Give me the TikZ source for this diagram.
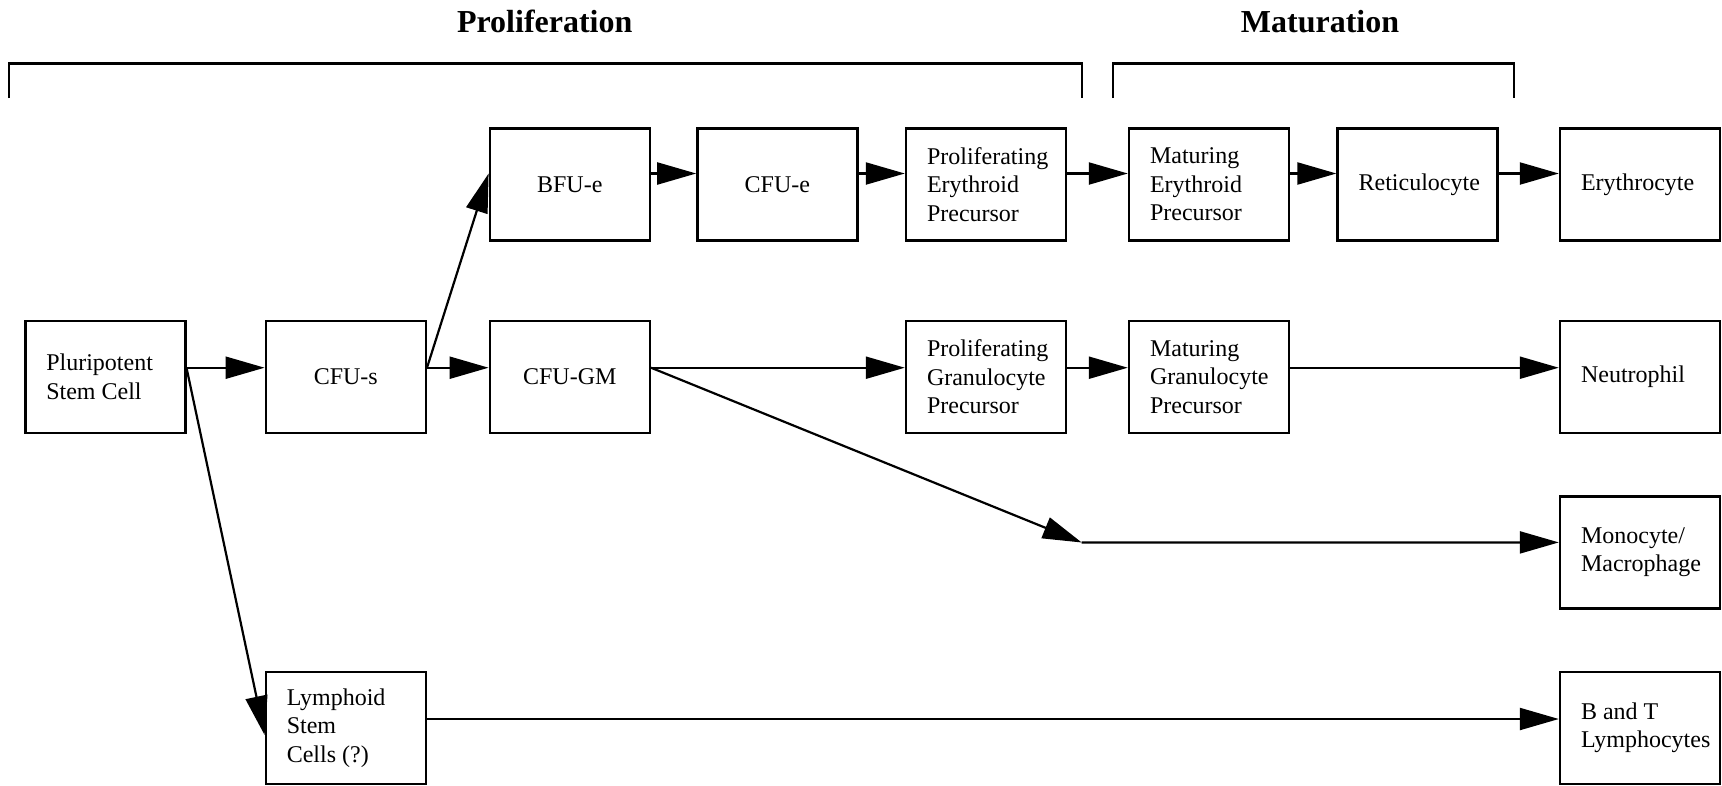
\documentclass[tikz,border=0pt]{standalone}
\usepackage{fontspec}
\setmainfont{Liberation Serif}
\usetikzlibrary{arrows.meta}
\begin{document}
\begin{tikzpicture}[x=1pt,y=1pt,
  cell/.style={draw, line width=2.4pt, minimum width=160pt, minimum height=112pt, inner sep=0pt, font=\fontsize{24}{28.5}\selectfont},
  cellc/.style={cell, align=center},
  celll/.style={cell, text width=118pt, inner xsep=21pt, align=flush left},
  conn/.style={line width=2.2pt, -{Triangle[length=39pt,width=22pt]}},
  plainline/.style={line width=2.2pt},
  title/.style={font=\fontsize{32}{38}\selectfont\bfseries, anchor=base}]
\useasboundingbox (0,0) rectangle (1722,-785);

% titles and brackets
\node[title] (tprol) at (544.7,-32) {Proliferation};
\node[title] (tmat) at (1320,-32) {Maturation};
\draw[plainline] (8.8,-98) -- (8.8,-63.5) -- (1082,-63.5) -- (1082,-98);
\draw[plainline] (1113,-98) -- (1113,-63.5) -- (1514,-63.5) -- (1514,-98);

% row 1
\node[cellc] (bfue) at (569.8,-184.5) {BFU-e};
\node[cellc] (cfue) at (777.4,-184.5) {CFU-e};
\node[celll] (pe)   at (986.0,-184.5) {Proliferating\\Erythroid\\Precursor};
\node[celll] (me)   at (1209.0,-184.5) {Maturing\\Erythroid\\Precursor};
\node[celll] (ret)  at (1417.6,-184.5) {Reticulocyte};
\node[celll] (ery)  at (1640,-184.5) {Erythrocyte};

% row 2
\node[celll] (plu)   at (105.3,-376.7) {Pluripotent\\Stem Cell};
\node[cellc] (cfus)  at (345.8,-376.7) {CFU-s};
\node[cellc] (cfugm) at (569.8,-376.7) {CFU-GM};
\node[celll] (pg)    at (986.0,-376.7) {Proliferating\\Granulocyte\\Precursor};
\node[celll] (mg)    at (1209.0,-376.7) {Maturing\\Granulocyte\\Precursor};
\node[celll] (neu)   at (1640,-376.7) {Neutrophil};

% row 3
\node[celll] (mono) at (1640,-552.4) {Monocyte/\\Macrophage};
\coordinate (mj) at (1081.7,-542.5);

% row 4
\node[celll] (lym) at (345.8,-728) {Lymphoid\\Stem\\Cells (?)};
\node[celll] (bt)  at (1640,-728) {B and T\\Lymphocytes};

% connectors
\draw[conn] ([yshift=9pt]plu.east) -- ([yshift=9pt]cfus.west);
\draw[conn] ([yshift=9pt]plu.east) -- ([yshift=-7pt]lym.west);
\draw[conn] ([yshift=9pt]cfus.east) -- ([yshift=9pt]cfugm.west);
\draw[conn] ([yshift=9pt]cfus.east) -- ([yshift=11pt]bfue.west);
\draw[conn] ([yshift=11pt]bfue.east) -- ([yshift=11pt]cfue.west);
\draw[conn] ([yshift=11pt]cfue.east) -- ([yshift=11pt]pe.west);
\draw[conn] ([yshift=11pt]pe.east) -- ([yshift=11pt]me.west);
\draw[conn] ([yshift=11pt]me.east) -- ([yshift=11pt]ret.west);
\draw[conn] ([yshift=11pt]ret.east) -- ([yshift=11pt]ery.west);
\draw[conn] ([yshift=9pt]cfugm.east) -- ([yshift=9pt]pg.west);
\draw[conn] ([yshift=9pt]pg.east) -- ([yshift=9pt]mg.west);
\draw[conn] ([yshift=9pt]mg.east) -- ([yshift=9pt]neu.west);
\draw[conn] ([yshift=9pt]cfugm.east) -- (mj);
\draw[conn] (mj) -- ([yshift=10pt]mono.west);
\draw[conn] ([yshift=9pt]lym.east) -- ([yshift=9pt]bt.west);
\end{tikzpicture}
\end{document}
